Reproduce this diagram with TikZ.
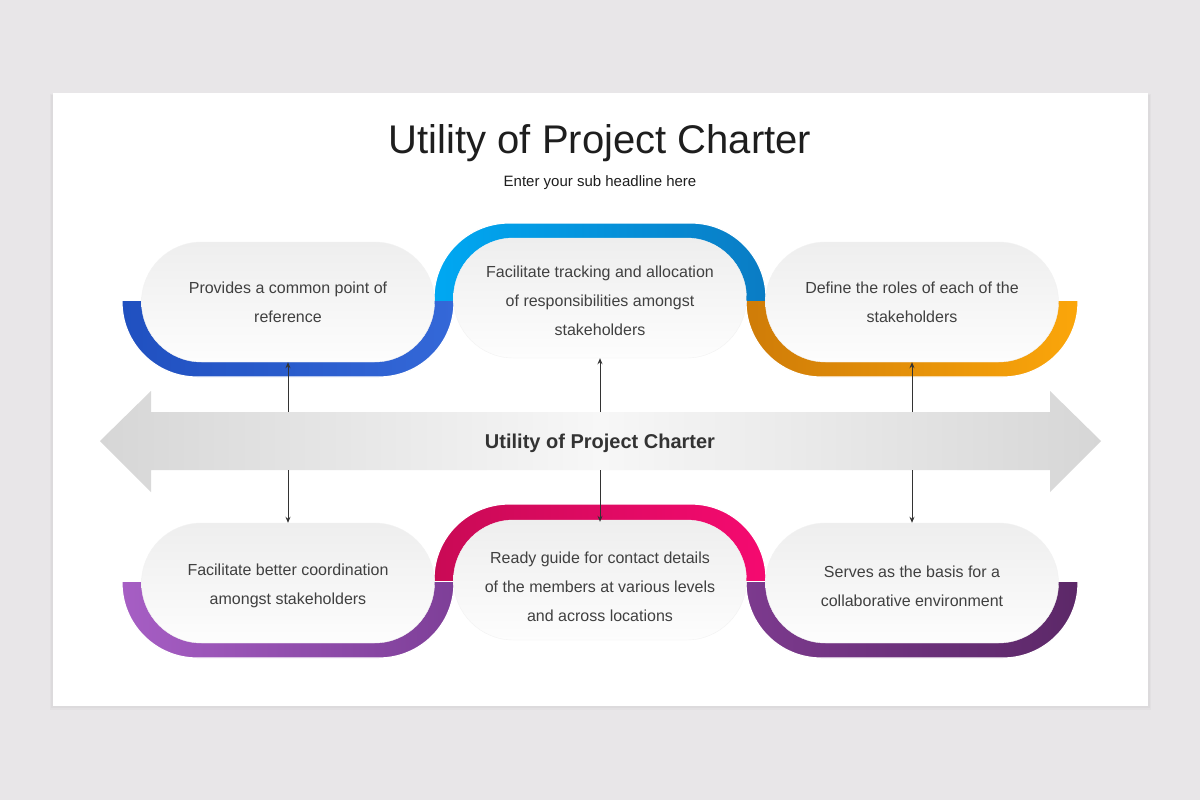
\documentclass[tikz,border=0pt]{standalone}
\usepackage{fontspec}
\setmainfont{Liberation Sans}
\usepackage{tikz}
\usepackage{xcolor}
\usetikzlibrary{arrows.meta}

\definecolor{pagegrey}{HTML}{E8E6E8}
\definecolor{titlegrey}{HTML}{1E1E1E}
\definecolor{txtgrey}{HTML}{404040}
\definecolor{linegrey}{HTML}{333333}
\definecolor{arrowgrey}{HTML}{D6D6D6}
\definecolor{arrowlight}{HTML}{F7F7F7}
\definecolor{pilltop}{HTML}{EEEEEE}
\definecolor{pillbot}{HTML}{FDFDFD}
\definecolor{blueA}{HTML}{2050C0}
\definecolor{blueB}{HTML}{3468D8}
\definecolor{cyanA}{HTML}{00A8F2}
\definecolor{cyanB}{HTML}{0A7CC4}
\definecolor{orangeA}{HTML}{CF7C08}
\definecolor{orangeB}{HTML}{FBA60A}
\definecolor{violetA}{HTML}{A65EC4}
\definecolor{violetB}{HTML}{7E3F98}
\definecolor{pinkA}{HTML}{C90A55}
\definecolor{pinkB}{HTML}{F50A70}
\definecolor{plumA}{HTML}{7C3A8E}
\definecolor{plumB}{HTML}{5C2868}

\tikzset{
  band/.style={rectangle, rounded corners=75pt, minimum width=332pt,
    minimum height=150pt, inner sep=0pt, draw=white, line width=1.2pt},
  pill/.style={rectangle, rounded corners=60pt, minimum width=293pt,
    minimum height=120pt, inner sep=0pt, top color=pilltop,
    bottom color=pillbot, draw=black!5},
  pilltext/.style={text=txtgrey, align=center, inner sep=0pt,
    font=\fontsize{16}{29}\selectfont}
}

\begin{document}
\begin{tikzpicture}[x=1pt,y=-1pt]
  \fill[pagegrey] (0,0) rectangle (1200,800);
  \useasboundingbox (0,0) rectangle (1200,800);
  \fill[black,opacity=0.025] (50,94) rectangle (1151,710);
  \fill[black,opacity=0.025] (51,95) rectangle (1150,708);
  \fill[white] (53,93) rectangle (1148,706);

  \node[font=\fontsize{40}{48}\selectfont, text=titlegrey] (title) at (600,143) {Utility of Project Charter};
  \node[font=\fontsize{15}{18}\selectfont, text=titlegrey] (subtitle) at (600,183) {Enter your sub headline here};

  \shade[left color=arrowgrey, right color=arrowgrey, middle color=arrowlight]
    (100,441) -- (151,391) -- (151,412) -- (1050,412) -- (1050,391) -- (1101,441)
    -- (1050,492) -- (1050,470) -- (151,470) -- (151,492) -- cycle;
  \node[font=\bfseries\fontsize{20}{24}\selectfont, text=linegrey] (label) at (600,443) {Utility of Project Charter};
  \coordinate (spineN) at (600,412);
  \coordinate (spineS) at (600,470);

  \begin{scope}
    \clip (100,301) rectangle (1100,400);
    \node[band, left color=blueA, right color=blueB] (B1) at (288,302) {};
    \node[band, left color=orangeA, right color=orangeB] (B3) at (912,302) {};
  \end{scope}
  \begin{scope}
    \clip (100,200) rectangle (1100,300);
    \node[band, left color=cyanA, right color=cyanB] (B2) at (600,298) {};
  \end{scope}
  \begin{scope}
    \clip (100,582) rectangle (1100,680);
    \node[band, left color=violetA, right color=violetB] (B4) at (288,583) {};
    \node[band, left color=plumA, right color=plumB] (B6) at (912,583) {};
  \end{scope}
  \begin{scope}
    \clip (100,480) rectangle (1100,580);
    \node[band, left color=pinkA, right color=pinkB] (B5) at (600,579) {};
  \end{scope}

  \begin{scope}[every node/.style={pill}]
    \node (P1) at (288,302) {};
    \node (P2) at (600,298) {};
    \node (P3) at (912,302) {};
    \node (P4) at (288,583) {};
    \node (P5) at (600,580) {};
    \node (P6) at (912,583) {};
  \end{scope}

  \begin{scope}[every node/.style={pilltext}]
    \node (T1) at (288,302) {Provides a common point of\\reference};
    \node (T2) at (600,301) {Facilitate tracking and allocation\\of responsibilities amongst\\stakeholders};
    \node (T3) at (912,302) {Define the roles of each of the\\stakeholders};
    \node (T4) at (288,586) {Facilitate better coordination\\amongst stakeholders};
    \node (T5) at (600,587) {Ready guide for contact details\\of the members at various levels\\and across locations};
    \node (T6) at (912,586) {Serves as the basis for a\\collaborative environment};
  \end{scope}

  \begin{scope}[>={Stealth[length=6pt,width=5pt]},
                every edge/.style={draw=linegrey, line width=1pt}]
    \path [->] (spineN -| P1.south) edge (P1.south);
    \path [->] (spineN -| P2.south) edge (P2.south);
    \path [->] (spineN -| P3.south) edge (P3.south);
    \path [->] (spineS -| P4.north) edge (P4.north);
    \path [->] (spineS -| P5.north) edge ([yshift=-2pt]P5.north);
    \path [->] (spineS -| P6.north) edge (P6.north);
  \end{scope}
\end{tikzpicture}
\end{document}
